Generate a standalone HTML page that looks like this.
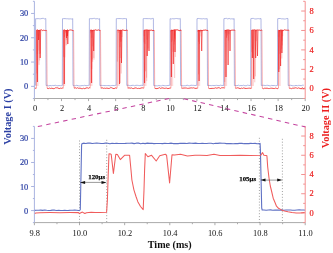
<!DOCTYPE html>
<html><head><meta charset="utf-8"><title>Voltage plot</title>
<style>
html,body{margin:0;padding:0;background:#fff;}
body{width:333px;height:253px;overflow:hidden;}
svg{display:block;}
</style></head>
<body>
<svg width="333" height="253" viewBox="0 0 333 253">
<rect width="333" height="253" fill="#fff"/>
<line x1="34.4" y1="1.3" x2="34.4" y2="98.5" stroke="#a9b3e0" stroke-width="1"/>
<line x1="305.2" y1="1.3" x2="305.2" y2="98.5" stroke="#f39090" stroke-width="1"/>
<line x1="34.4" y1="98.5" x2="305.2" y2="98.5" stroke="#aaaaaa" stroke-width="1"/>
<line x1="32.9" y1="98.50" x2="34.4" y2="98.50" stroke="#a9b3e0" stroke-width="1"/>
<line x1="31.1" y1="86.35" x2="34.4" y2="86.35" stroke="#a9b3e0" stroke-width="1"/>
<text x="28.3" y="89.35" text-anchor="end" fill="#2c40a4" stroke="#2c40a4" stroke-width="0.2" font-size="8.4" style="font-family:'Liberation Serif','Times New Roman',serif">0</text>
<line x1="32.9" y1="74.20" x2="34.4" y2="74.20" stroke="#a9b3e0" stroke-width="1"/>
<line x1="31.1" y1="62.05" x2="34.4" y2="62.05" stroke="#a9b3e0" stroke-width="1"/>
<text x="28.3" y="65.05" text-anchor="end" fill="#2c40a4" stroke="#2c40a4" stroke-width="0.2" font-size="8.4" style="font-family:'Liberation Serif','Times New Roman',serif">10</text>
<line x1="32.9" y1="49.90" x2="34.4" y2="49.90" stroke="#a9b3e0" stroke-width="1"/>
<line x1="31.1" y1="37.75" x2="34.4" y2="37.75" stroke="#a9b3e0" stroke-width="1"/>
<text x="28.3" y="40.75" text-anchor="end" fill="#2c40a4" stroke="#2c40a4" stroke-width="0.2" font-size="8.4" style="font-family:'Liberation Serif','Times New Roman',serif">20</text>
<line x1="32.9" y1="25.60" x2="34.4" y2="25.60" stroke="#a9b3e0" stroke-width="1"/>
<line x1="31.1" y1="13.45" x2="34.4" y2="13.45" stroke="#a9b3e0" stroke-width="1"/>
<text x="28.3" y="16.45" text-anchor="end" fill="#2c40a4" stroke="#2c40a4" stroke-width="0.2" font-size="8.4" style="font-family:'Liberation Serif','Times New Roman',serif">30</text>
<line x1="32.9" y1="1.30" x2="34.4" y2="1.30" stroke="#a9b3e0" stroke-width="1"/>
<line x1="303.2" y1="98.50" x2="305.2" y2="98.50" stroke="#f39090" stroke-width="1"/>
<line x1="301.2" y1="88.78" x2="305.2" y2="88.78" stroke="#f39090" stroke-width="1"/>
<text x="309.6" y="91.38" fill="#ec2020" stroke="#ec2020" stroke-width="0.2" font-size="8.4" style="font-family:'Liberation Serif','Times New Roman',serif">0</text>
<line x1="303.2" y1="79.06" x2="305.2" y2="79.06" stroke="#f39090" stroke-width="1"/>
<line x1="301.2" y1="69.34" x2="305.2" y2="69.34" stroke="#f39090" stroke-width="1"/>
<text x="309.6" y="71.94" fill="#ec2020" stroke="#ec2020" stroke-width="0.2" font-size="8.4" style="font-family:'Liberation Serif','Times New Roman',serif">2</text>
<line x1="303.2" y1="59.62" x2="305.2" y2="59.62" stroke="#f39090" stroke-width="1"/>
<line x1="301.2" y1="49.90" x2="305.2" y2="49.90" stroke="#f39090" stroke-width="1"/>
<text x="309.6" y="52.50" fill="#ec2020" stroke="#ec2020" stroke-width="0.2" font-size="8.4" style="font-family:'Liberation Serif','Times New Roman',serif">4</text>
<line x1="303.2" y1="40.18" x2="305.2" y2="40.18" stroke="#f39090" stroke-width="1"/>
<line x1="301.2" y1="30.46" x2="305.2" y2="30.46" stroke="#f39090" stroke-width="1"/>
<text x="309.6" y="33.06" fill="#ec2020" stroke="#ec2020" stroke-width="0.2" font-size="8.4" style="font-family:'Liberation Serif','Times New Roman',serif">6</text>
<line x1="303.2" y1="20.74" x2="305.2" y2="20.74" stroke="#f39090" stroke-width="1"/>
<line x1="301.2" y1="11.02" x2="305.2" y2="11.02" stroke="#f39090" stroke-width="1"/>
<text x="309.6" y="13.62" fill="#ec2020" stroke="#ec2020" stroke-width="0.2" font-size="8.4" style="font-family:'Liberation Serif','Times New Roman',serif">8</text>
<line x1="303.2" y1="1.30" x2="305.2" y2="1.30" stroke="#f39090" stroke-width="1"/>
<line x1="34.40" y1="98.5" x2="34.40" y2="101.1" stroke="#aaaaaa" stroke-width="1"/>
<text x="35.00" y="110.80" text-anchor="middle" fill="#111" font-size="8.4" style="font-family:'Liberation Serif','Times New Roman',serif">0</text>
<line x1="47.94" y1="98.5" x2="47.94" y2="100.1" stroke="#aaaaaa" stroke-width="1"/>
<line x1="61.48" y1="98.5" x2="61.48" y2="101.1" stroke="#aaaaaa" stroke-width="1"/>
<text x="62.08" y="110.80" text-anchor="middle" fill="#111" font-size="8.4" style="font-family:'Liberation Serif','Times New Roman',serif">2</text>
<line x1="75.02" y1="98.5" x2="75.02" y2="100.1" stroke="#aaaaaa" stroke-width="1"/>
<line x1="88.56" y1="98.5" x2="88.56" y2="101.1" stroke="#aaaaaa" stroke-width="1"/>
<text x="89.16" y="110.80" text-anchor="middle" fill="#111" font-size="8.4" style="font-family:'Liberation Serif','Times New Roman',serif">4</text>
<line x1="102.10" y1="98.5" x2="102.10" y2="100.1" stroke="#aaaaaa" stroke-width="1"/>
<line x1="115.64" y1="98.5" x2="115.64" y2="101.1" stroke="#aaaaaa" stroke-width="1"/>
<text x="116.24" y="110.80" text-anchor="middle" fill="#111" font-size="8.4" style="font-family:'Liberation Serif','Times New Roman',serif">6</text>
<line x1="129.18" y1="98.5" x2="129.18" y2="100.1" stroke="#aaaaaa" stroke-width="1"/>
<line x1="142.72" y1="98.5" x2="142.72" y2="101.1" stroke="#aaaaaa" stroke-width="1"/>
<text x="143.32" y="110.80" text-anchor="middle" fill="#111" font-size="8.4" style="font-family:'Liberation Serif','Times New Roman',serif">8</text>
<line x1="156.26" y1="98.5" x2="156.26" y2="100.1" stroke="#aaaaaa" stroke-width="1"/>
<line x1="169.80" y1="98.5" x2="169.80" y2="101.1" stroke="#aaaaaa" stroke-width="1"/>
<text x="170.40" y="110.80" text-anchor="middle" fill="#111" font-size="8.4" style="font-family:'Liberation Serif','Times New Roman',serif">10</text>
<line x1="183.34" y1="98.5" x2="183.34" y2="100.1" stroke="#aaaaaa" stroke-width="1"/>
<line x1="196.88" y1="98.5" x2="196.88" y2="101.1" stroke="#aaaaaa" stroke-width="1"/>
<text x="197.48" y="110.80" text-anchor="middle" fill="#111" font-size="8.4" style="font-family:'Liberation Serif','Times New Roman',serif">12</text>
<line x1="210.42" y1="98.5" x2="210.42" y2="100.1" stroke="#aaaaaa" stroke-width="1"/>
<line x1="223.96" y1="98.5" x2="223.96" y2="101.1" stroke="#aaaaaa" stroke-width="1"/>
<text x="224.56" y="110.80" text-anchor="middle" fill="#111" font-size="8.4" style="font-family:'Liberation Serif','Times New Roman',serif">14</text>
<line x1="237.50" y1="98.5" x2="237.50" y2="100.1" stroke="#aaaaaa" stroke-width="1"/>
<line x1="251.04" y1="98.5" x2="251.04" y2="101.1" stroke="#aaaaaa" stroke-width="1"/>
<text x="251.64" y="110.80" text-anchor="middle" fill="#111" font-size="8.4" style="font-family:'Liberation Serif','Times New Roman',serif">16</text>
<line x1="264.58" y1="98.5" x2="264.58" y2="100.1" stroke="#aaaaaa" stroke-width="1"/>
<line x1="278.12" y1="98.5" x2="278.12" y2="101.1" stroke="#aaaaaa" stroke-width="1"/>
<text x="278.72" y="110.80" text-anchor="middle" fill="#111" font-size="8.4" style="font-family:'Liberation Serif','Times New Roman',serif">18</text>
<line x1="291.66" y1="98.5" x2="291.66" y2="100.1" stroke="#aaaaaa" stroke-width="1"/>
<line x1="305.20" y1="98.5" x2="305.20" y2="101.1" stroke="#aaaaaa" stroke-width="1"/>
<text x="305.80" y="110.80" text-anchor="middle" fill="#111" font-size="8.4" style="font-family:'Liberation Serif','Times New Roman',serif">20</text>
<polyline points="34.90,85.50 35.40,85.34 35.60,18.70 36.90,18.73 38.20,18.61 39.50,18.77 40.80,18.79 42.10,18.40 43.40,18.36 44.70,18.94 45.80,18.53 45.80,18.70 46.10,85.50 47.40,85.31 48.70,85.85 50.00,85.48 51.30,85.74 52.60,85.48 53.90,85.60 55.20,85.26 56.50,85.59 57.80,85.76 59.10,85.52 60.40,85.67 61.70,85.62 62.30,85.50 62.50,18.70 63.80,18.62 65.10,18.60 66.40,18.76 67.70,18.76 69.00,18.98 70.30,18.83 71.60,19.00 72.70,18.95 72.70,18.70 73.00,85.50 74.30,85.84 75.60,85.62 76.90,85.26 78.20,85.75 79.50,85.83 80.80,85.78 82.10,85.55 83.40,85.65 84.70,85.30 86.00,85.73 87.30,85.55 88.60,85.35 89.20,85.32 89.40,18.70 90.70,18.64 92.00,18.78 93.30,18.46 94.60,18.38 95.90,18.96 97.20,18.57 98.50,19.02 99.60,18.98 99.60,18.70 99.90,85.50 101.20,85.41 102.50,85.47 103.80,85.51 105.10,85.60 106.40,85.57 107.70,85.54 109.00,85.58 110.30,85.81 111.60,85.50 112.90,85.45 114.20,85.65 115.50,85.32 116.10,85.56 116.30,18.70 117.60,18.57 118.90,18.60 120.20,18.57 121.50,18.61 122.80,18.77 124.10,18.56 125.40,18.61 126.50,18.89 126.50,18.70 126.80,85.50 128.10,85.17 129.40,85.55 130.70,85.66 132.00,85.37 133.30,85.31 134.60,85.71 135.90,85.32 137.20,85.28 138.50,85.45 139.80,85.64 141.10,85.22 142.40,85.38 143.00,85.68 143.20,18.70 144.50,18.54 145.80,18.59 147.10,18.64 148.40,18.64 149.70,18.64 151.00,18.99 152.30,18.46 153.40,18.35 153.40,18.70 153.70,85.50 155.00,85.81 156.30,85.77 157.60,85.84 158.90,85.45 160.20,85.82 161.50,85.80 162.80,85.31 164.10,85.67 165.40,85.74 166.70,85.61 168.00,85.51 169.30,85.35 169.90,85.35 170.10,18.70 171.40,18.95 172.70,18.68 174.00,18.90 175.30,18.60 176.60,18.49 177.90,18.72 179.20,18.92 180.30,18.47 180.30,18.70 180.60,85.50 181.90,85.70 183.20,85.80 184.50,85.71 185.80,85.73 187.10,85.16 188.40,85.59 189.70,85.75 191.00,85.18 192.30,85.34 193.60,85.34 194.90,85.52 196.20,85.45 196.80,85.25 197.00,18.70 198.30,18.47 199.60,18.61 200.90,18.77 202.20,18.90 203.50,18.62 204.80,18.91 206.10,18.79 207.20,18.65 207.20,18.70 207.50,85.50 208.80,85.41 210.10,85.50 211.40,85.64 212.70,85.44 214.00,85.64 215.30,85.47 216.60,85.32 217.90,85.53 219.20,85.64 220.50,85.20 221.80,85.45 223.10,85.45 223.70,85.73 223.90,18.70 225.20,18.48 226.50,18.37 227.80,18.94 229.10,18.43 230.40,18.94 231.70,18.82 233.00,18.94 234.10,19.02 234.10,18.70 234.40,85.50 235.70,85.56 237.00,85.71 238.30,85.18 239.60,85.69 240.90,85.51 242.20,85.65 243.50,85.22 244.80,85.67 246.10,85.80 247.40,85.19 248.70,85.38 250.00,85.54 250.60,85.74 250.80,18.70 252.10,18.45 253.40,18.42 254.70,18.87 256.00,18.99 257.30,18.71 258.60,18.66 259.90,18.85 261.00,18.48 261.00,18.70 261.30,85.50 262.60,85.34 263.90,85.29 265.20,85.56 266.50,85.37 267.80,85.31 269.10,85.63 270.40,85.82 271.70,85.36 273.00,85.64 274.30,85.44 275.60,85.75 276.90,85.56 277.50,85.48 277.70,18.70 279.00,18.51 280.30,18.51 281.60,18.85 282.90,18.82 284.20,19.02 285.50,18.95 286.80,18.52 287.90,18.48 287.90,18.70 288.20,85.50 289.50,85.33 290.80,85.28 292.10,85.64 293.40,85.75 294.70,85.78 296.00,85.33 297.30,85.76 298.60,85.37 299.90,85.45 301.20,85.66 302.50,85.21 303.80,85.21" fill="none" stroke="#8f9ad8" stroke-width="0.7" stroke-linejoin="round"/>
<rect x="35.90" y="30.2" width="2.70" height="55.80" fill="#f01e1e" fill-opacity="0.16"/>
<line x1="39.61" y1="30.2" x2="39.61" y2="60.5" stroke="#f01e1e" stroke-width="0.45" stroke-opacity="0.55"/>
<line x1="37.32" y1="30.2" x2="37.32" y2="53.8" stroke="#f01e1e" stroke-width="0.45" stroke-opacity="0.55"/>
<line x1="39.04" y1="30.2" x2="39.04" y2="64.9" stroke="#f01e1e" stroke-width="0.45" stroke-opacity="0.55"/>
<line x1="37.17" y1="30.2" x2="37.17" y2="60.2" stroke="#f01e1e" stroke-width="0.45" stroke-opacity="0.55"/>
<line x1="40.51" y1="30.2" x2="40.51" y2="53.5" stroke="#f01e1e" stroke-width="0.45" stroke-opacity="0.55"/>
<line x1="38.47" y1="30.2" x2="38.47" y2="30.7" stroke="#f01e1e" stroke-width="0.45" stroke-opacity="0.55"/>
<line x1="38.27" y1="30.2" x2="38.27" y2="35.8" stroke="#f01e1e" stroke-width="0.45" stroke-opacity="0.55"/>
<line x1="39.35" y1="30.2" x2="39.35" y2="54.0" stroke="#f01e1e" stroke-width="0.45" stroke-opacity="0.55"/>
<line x1="38.62" y1="30.2" x2="38.62" y2="31.5" stroke="#f01e1e" stroke-width="0.45" stroke-opacity="0.55"/>
<line x1="39.00" y1="30.2" x2="39.00" y2="50.5" stroke="#f01e1e" stroke-width="0.45" stroke-opacity="0.55"/>
<line x1="36.76" y1="30.2" x2="36.76" y2="73.4" stroke="#f01e1e" stroke-width="0.45" stroke-opacity="0.55"/>
<line x1="39.05" y1="30.2" x2="39.05" y2="30.8" stroke="#f01e1e" stroke-width="0.45" stroke-opacity="0.55"/>
<polyline points="36.90,30.2 37.40,82 37.90,30.2" fill="none" stroke="#f01e1e" stroke-width="0.6"/>
<polyline points="39.70,30.2 40.20,58 40.70,30.2" fill="none" stroke="#f01e1e" stroke-width="0.6"/>
<polyline points="38.10,30.2 38.60,40 39.10,30.2" fill="none" stroke="#f01e1e" stroke-width="0.6"/>
<rect x="63.20" y="30.2" width="2.00" height="55.80" fill="#f01e1e" fill-opacity="0.16"/>
<line x1="67.67" y1="30.2" x2="67.67" y2="31.0" stroke="#f01e1e" stroke-width="0.45" stroke-opacity="0.55"/>
<line x1="64.79" y1="30.2" x2="64.79" y2="57.3" stroke="#f01e1e" stroke-width="0.45" stroke-opacity="0.55"/>
<line x1="66.07" y1="30.2" x2="66.07" y2="45.5" stroke="#f01e1e" stroke-width="0.45" stroke-opacity="0.55"/>
<line x1="66.31" y1="30.2" x2="66.31" y2="40.2" stroke="#f01e1e" stroke-width="0.45" stroke-opacity="0.55"/>
<line x1="64.70" y1="30.2" x2="64.70" y2="31.4" stroke="#f01e1e" stroke-width="0.45" stroke-opacity="0.55"/>
<line x1="63.53" y1="30.2" x2="63.53" y2="56.9" stroke="#f01e1e" stroke-width="0.45" stroke-opacity="0.55"/>
<line x1="66.82" y1="30.2" x2="66.82" y2="44.8" stroke="#f01e1e" stroke-width="0.45" stroke-opacity="0.55"/>
<line x1="66.75" y1="30.2" x2="66.75" y2="36.1" stroke="#f01e1e" stroke-width="0.45" stroke-opacity="0.55"/>
<line x1="64.48" y1="30.2" x2="64.48" y2="37.0" stroke="#f01e1e" stroke-width="0.45" stroke-opacity="0.55"/>
<line x1="67.39" y1="30.2" x2="67.39" y2="30.3" stroke="#f01e1e" stroke-width="0.45" stroke-opacity="0.55"/>
<line x1="65.62" y1="30.2" x2="65.62" y2="32.8" stroke="#f01e1e" stroke-width="0.45" stroke-opacity="0.55"/>
<line x1="66.89" y1="30.2" x2="66.89" y2="35.9" stroke="#f01e1e" stroke-width="0.45" stroke-opacity="0.55"/>
<polyline points="63.80,30.2 64.30,84 64.80,30.2" fill="none" stroke="#f01e1e" stroke-width="0.6"/>
<polyline points="66.00,30.2 66.50,38 67.00,30.2" fill="none" stroke="#f01e1e" stroke-width="0.6"/>
<polyline points="66.80,30.2 67.30,36 67.80,30.2" fill="none" stroke="#f01e1e" stroke-width="0.6"/>
<polyline points="67.30,30.2 67.80,44 68.30,30.2" fill="none" stroke="#f01e1e" stroke-width="0.6"/>
<rect x="90.10" y="30.2" width="2.40" height="55.80" fill="#f01e1e" fill-opacity="0.16"/>
<line x1="91.70" y1="30.2" x2="91.70" y2="37.8" stroke="#f01e1e" stroke-width="0.45" stroke-opacity="0.55"/>
<line x1="92.70" y1="30.2" x2="92.70" y2="61.8" stroke="#f01e1e" stroke-width="0.45" stroke-opacity="0.55"/>
<line x1="91.79" y1="30.2" x2="91.79" y2="68.9" stroke="#f01e1e" stroke-width="0.45" stroke-opacity="0.55"/>
<line x1="90.64" y1="30.2" x2="90.64" y2="33.3" stroke="#f01e1e" stroke-width="0.45" stroke-opacity="0.55"/>
<line x1="90.58" y1="30.2" x2="90.58" y2="30.7" stroke="#f01e1e" stroke-width="0.45" stroke-opacity="0.55"/>
<line x1="93.84" y1="30.2" x2="93.84" y2="57.9" stroke="#f01e1e" stroke-width="0.45" stroke-opacity="0.55"/>
<line x1="90.99" y1="30.2" x2="90.99" y2="31.6" stroke="#f01e1e" stroke-width="0.45" stroke-opacity="0.55"/>
<line x1="92.10" y1="30.2" x2="92.10" y2="59.3" stroke="#f01e1e" stroke-width="0.45" stroke-opacity="0.55"/>
<line x1="94.02" y1="30.2" x2="94.02" y2="59.7" stroke="#f01e1e" stroke-width="0.45" stroke-opacity="0.55"/>
<line x1="92.94" y1="30.2" x2="92.94" y2="31.0" stroke="#f01e1e" stroke-width="0.45" stroke-opacity="0.55"/>
<line x1="92.01" y1="30.2" x2="92.01" y2="31.7" stroke="#f01e1e" stroke-width="0.45" stroke-opacity="0.55"/>
<line x1="92.63" y1="30.2" x2="92.63" y2="46.3" stroke="#f01e1e" stroke-width="0.45" stroke-opacity="0.55"/>
<polyline points="91.10,30.2 91.60,83 92.10,30.2" fill="none" stroke="#f01e1e" stroke-width="0.6"/>
<polyline points="93.20,30.2 93.70,51 94.20,30.2" fill="none" stroke="#f01e1e" stroke-width="0.6"/>
<rect x="117.40" y="30.2" width="2.50" height="55.80" fill="#f01e1e" fill-opacity="0.16"/>
<line x1="118.37" y1="30.2" x2="118.37" y2="32.8" stroke="#f01e1e" stroke-width="0.45" stroke-opacity="0.55"/>
<line x1="121.15" y1="30.2" x2="121.15" y2="30.2" stroke="#f01e1e" stroke-width="0.45" stroke-opacity="0.55"/>
<line x1="121.26" y1="30.2" x2="121.26" y2="73.5" stroke="#f01e1e" stroke-width="0.45" stroke-opacity="0.55"/>
<line x1="121.96" y1="30.2" x2="121.96" y2="37.0" stroke="#f01e1e" stroke-width="0.45" stroke-opacity="0.55"/>
<line x1="120.05" y1="30.2" x2="120.05" y2="47.2" stroke="#f01e1e" stroke-width="0.45" stroke-opacity="0.55"/>
<line x1="120.44" y1="30.2" x2="120.44" y2="83.2" stroke="#f01e1e" stroke-width="0.45" stroke-opacity="0.55"/>
<line x1="120.70" y1="30.2" x2="120.70" y2="34.1" stroke="#f01e1e" stroke-width="0.45" stroke-opacity="0.55"/>
<line x1="121.53" y1="30.2" x2="121.53" y2="41.5" stroke="#f01e1e" stroke-width="0.45" stroke-opacity="0.55"/>
<line x1="120.29" y1="30.2" x2="120.29" y2="57.9" stroke="#f01e1e" stroke-width="0.45" stroke-opacity="0.55"/>
<line x1="117.41" y1="30.2" x2="117.41" y2="61.6" stroke="#f01e1e" stroke-width="0.45" stroke-opacity="0.55"/>
<line x1="120.58" y1="30.2" x2="120.58" y2="41.9" stroke="#f01e1e" stroke-width="0.45" stroke-opacity="0.55"/>
<line x1="119.91" y1="30.2" x2="119.91" y2="40.3" stroke="#f01e1e" stroke-width="0.45" stroke-opacity="0.55"/>
<polyline points="119.00,30.2 119.50,84 120.00,30.2" fill="none" stroke="#f01e1e" stroke-width="0.6"/>
<polyline points="121.00,30.2 121.50,63 122.00,30.2" fill="none" stroke="#f01e1e" stroke-width="0.6"/>
<rect x="144.00" y="30.2" width="2.50" height="55.80" fill="#f01e1e" fill-opacity="0.16"/>
<line x1="144.93" y1="30.2" x2="144.93" y2="44.0" stroke="#f01e1e" stroke-width="0.45" stroke-opacity="0.55"/>
<line x1="144.18" y1="30.2" x2="144.18" y2="42.4" stroke="#f01e1e" stroke-width="0.45" stroke-opacity="0.55"/>
<line x1="147.10" y1="30.2" x2="147.10" y2="39.6" stroke="#f01e1e" stroke-width="0.45" stroke-opacity="0.55"/>
<line x1="146.72" y1="30.2" x2="146.72" y2="81.1" stroke="#f01e1e" stroke-width="0.45" stroke-opacity="0.55"/>
<line x1="148.28" y1="30.2" x2="148.28" y2="30.9" stroke="#f01e1e" stroke-width="0.45" stroke-opacity="0.55"/>
<line x1="147.80" y1="30.2" x2="147.80" y2="49.9" stroke="#f01e1e" stroke-width="0.45" stroke-opacity="0.55"/>
<line x1="144.24" y1="30.2" x2="144.24" y2="36.1" stroke="#f01e1e" stroke-width="0.45" stroke-opacity="0.55"/>
<line x1="145.12" y1="30.2" x2="145.12" y2="30.4" stroke="#f01e1e" stroke-width="0.45" stroke-opacity="0.55"/>
<line x1="146.59" y1="30.2" x2="146.59" y2="77.7" stroke="#f01e1e" stroke-width="0.45" stroke-opacity="0.55"/>
<line x1="145.55" y1="30.2" x2="145.55" y2="71.3" stroke="#f01e1e" stroke-width="0.45" stroke-opacity="0.55"/>
<line x1="147.33" y1="30.2" x2="147.33" y2="30.9" stroke="#f01e1e" stroke-width="0.45" stroke-opacity="0.55"/>
<line x1="148.12" y1="30.2" x2="148.12" y2="48.4" stroke="#f01e1e" stroke-width="0.45" stroke-opacity="0.55"/>
<polyline points="144.10,30.2 144.60,83 145.10,30.2" fill="none" stroke="#f01e1e" stroke-width="0.6"/>
<polyline points="146.70,30.2 147.20,56 147.70,30.2" fill="none" stroke="#f01e1e" stroke-width="0.6"/>
<polyline points="148.50,30.2 149.00,51 149.50,30.2" fill="none" stroke="#f01e1e" stroke-width="0.6"/>
<rect x="170.80" y="30.2" width="2.40" height="55.80" fill="#f01e1e" fill-opacity="0.16"/>
<line x1="175.25" y1="30.2" x2="175.25" y2="57.0" stroke="#f01e1e" stroke-width="0.45" stroke-opacity="0.55"/>
<line x1="174.35" y1="30.2" x2="174.35" y2="35.5" stroke="#f01e1e" stroke-width="0.45" stroke-opacity="0.55"/>
<line x1="174.67" y1="30.2" x2="174.67" y2="78.0" stroke="#f01e1e" stroke-width="0.45" stroke-opacity="0.55"/>
<line x1="174.94" y1="30.2" x2="174.94" y2="39.2" stroke="#f01e1e" stroke-width="0.45" stroke-opacity="0.55"/>
<line x1="174.43" y1="30.2" x2="174.43" y2="41.6" stroke="#f01e1e" stroke-width="0.45" stroke-opacity="0.55"/>
<line x1="171.32" y1="30.2" x2="171.32" y2="30.3" stroke="#f01e1e" stroke-width="0.45" stroke-opacity="0.55"/>
<line x1="171.17" y1="30.2" x2="171.17" y2="31.8" stroke="#f01e1e" stroke-width="0.45" stroke-opacity="0.55"/>
<line x1="171.57" y1="30.2" x2="171.57" y2="42.2" stroke="#f01e1e" stroke-width="0.45" stroke-opacity="0.55"/>
<line x1="174.16" y1="30.2" x2="174.16" y2="44.4" stroke="#f01e1e" stroke-width="0.45" stroke-opacity="0.55"/>
<line x1="172.83" y1="30.2" x2="172.83" y2="51.8" stroke="#f01e1e" stroke-width="0.45" stroke-opacity="0.55"/>
<line x1="172.26" y1="30.2" x2="172.26" y2="40.5" stroke="#f01e1e" stroke-width="0.45" stroke-opacity="0.55"/>
<line x1="174.43" y1="30.2" x2="174.43" y2="37.7" stroke="#f01e1e" stroke-width="0.45" stroke-opacity="0.55"/>
<polyline points="170.90,30.2 171.40,77 171.90,30.2" fill="none" stroke="#f01e1e" stroke-width="0.6"/>
<polyline points="172.80,30.2 173.30,64 173.80,30.2" fill="none" stroke="#f01e1e" stroke-width="0.6"/>
<polyline points="174.50,30.2 175.00,52 175.50,30.2" fill="none" stroke="#f01e1e" stroke-width="0.6"/>
<rect x="197.70" y="30.2" width="2.50" height="55.80" fill="#f01e1e" fill-opacity="0.16"/>
<line x1="198.57" y1="30.2" x2="198.57" y2="74.4" stroke="#f01e1e" stroke-width="0.45" stroke-opacity="0.55"/>
<line x1="201.15" y1="30.2" x2="201.15" y2="36.3" stroke="#f01e1e" stroke-width="0.45" stroke-opacity="0.55"/>
<line x1="199.48" y1="30.2" x2="199.48" y2="44.0" stroke="#f01e1e" stroke-width="0.45" stroke-opacity="0.55"/>
<line x1="200.56" y1="30.2" x2="200.56" y2="32.3" stroke="#f01e1e" stroke-width="0.45" stroke-opacity="0.55"/>
<line x1="197.71" y1="30.2" x2="197.71" y2="32.0" stroke="#f01e1e" stroke-width="0.45" stroke-opacity="0.55"/>
<line x1="201.46" y1="30.2" x2="201.46" y2="31.0" stroke="#f01e1e" stroke-width="0.45" stroke-opacity="0.55"/>
<line x1="199.91" y1="30.2" x2="199.91" y2="31.7" stroke="#f01e1e" stroke-width="0.45" stroke-opacity="0.55"/>
<line x1="198.70" y1="30.2" x2="198.70" y2="31.3" stroke="#f01e1e" stroke-width="0.45" stroke-opacity="0.55"/>
<line x1="199.64" y1="30.2" x2="199.64" y2="31.3" stroke="#f01e1e" stroke-width="0.45" stroke-opacity="0.55"/>
<line x1="197.83" y1="30.2" x2="197.83" y2="30.6" stroke="#f01e1e" stroke-width="0.45" stroke-opacity="0.55"/>
<line x1="198.51" y1="30.2" x2="198.51" y2="41.8" stroke="#f01e1e" stroke-width="0.45" stroke-opacity="0.55"/>
<line x1="197.99" y1="30.2" x2="197.99" y2="30.2" stroke="#f01e1e" stroke-width="0.45" stroke-opacity="0.55"/>
<polyline points="198.60,30.2 199.10,81 199.60,30.2" fill="none" stroke="#f01e1e" stroke-width="0.6"/>
<polyline points="201.20,30.2 201.70,51 202.20,30.2" fill="none" stroke="#f01e1e" stroke-width="0.6"/>
<rect x="224.60" y="30.2" width="2.50" height="55.80" fill="#f01e1e" fill-opacity="0.16"/>
<line x1="226.75" y1="30.2" x2="226.75" y2="38.0" stroke="#f01e1e" stroke-width="0.45" stroke-opacity="0.55"/>
<line x1="227.98" y1="30.2" x2="227.98" y2="30.3" stroke="#f01e1e" stroke-width="0.45" stroke-opacity="0.55"/>
<line x1="226.54" y1="30.2" x2="226.54" y2="37.5" stroke="#f01e1e" stroke-width="0.45" stroke-opacity="0.55"/>
<line x1="224.73" y1="30.2" x2="224.73" y2="81.9" stroke="#f01e1e" stroke-width="0.45" stroke-opacity="0.55"/>
<line x1="225.65" y1="30.2" x2="225.65" y2="30.5" stroke="#f01e1e" stroke-width="0.45" stroke-opacity="0.55"/>
<line x1="226.88" y1="30.2" x2="226.88" y2="31.3" stroke="#f01e1e" stroke-width="0.45" stroke-opacity="0.55"/>
<line x1="227.59" y1="30.2" x2="227.59" y2="35.6" stroke="#f01e1e" stroke-width="0.45" stroke-opacity="0.55"/>
<line x1="225.19" y1="30.2" x2="225.19" y2="30.3" stroke="#f01e1e" stroke-width="0.45" stroke-opacity="0.55"/>
<line x1="228.09" y1="30.2" x2="228.09" y2="33.5" stroke="#f01e1e" stroke-width="0.45" stroke-opacity="0.55"/>
<line x1="228.38" y1="30.2" x2="228.38" y2="40.6" stroke="#f01e1e" stroke-width="0.45" stroke-opacity="0.55"/>
<line x1="229.08" y1="30.2" x2="229.08" y2="34.2" stroke="#f01e1e" stroke-width="0.45" stroke-opacity="0.55"/>
<line x1="225.80" y1="30.2" x2="225.80" y2="33.2" stroke="#f01e1e" stroke-width="0.45" stroke-opacity="0.55"/>
<polyline points="225.50,30.2 226.00,77 226.50,30.2" fill="none" stroke="#f01e1e" stroke-width="0.6"/>
<polyline points="227.60,30.2 228.10,65 228.60,30.2" fill="none" stroke="#f01e1e" stroke-width="0.6"/>
<polyline points="229.50,30.2 230.00,51 230.50,30.2" fill="none" stroke="#f01e1e" stroke-width="0.6"/>
<rect x="251.50" y="30.2" width="2.50" height="55.80" fill="#f01e1e" fill-opacity="0.16"/>
<line x1="255.41" y1="30.2" x2="255.41" y2="50.3" stroke="#f01e1e" stroke-width="0.45" stroke-opacity="0.55"/>
<line x1="253.15" y1="30.2" x2="253.15" y2="30.5" stroke="#f01e1e" stroke-width="0.45" stroke-opacity="0.55"/>
<line x1="254.78" y1="30.2" x2="254.78" y2="82.3" stroke="#f01e1e" stroke-width="0.45" stroke-opacity="0.55"/>
<line x1="254.34" y1="30.2" x2="254.34" y2="30.2" stroke="#f01e1e" stroke-width="0.45" stroke-opacity="0.55"/>
<line x1="251.65" y1="30.2" x2="251.65" y2="30.5" stroke="#f01e1e" stroke-width="0.45" stroke-opacity="0.55"/>
<line x1="252.32" y1="30.2" x2="252.32" y2="30.2" stroke="#f01e1e" stroke-width="0.45" stroke-opacity="0.55"/>
<line x1="251.76" y1="30.2" x2="251.76" y2="52.1" stroke="#f01e1e" stroke-width="0.45" stroke-opacity="0.55"/>
<line x1="255.82" y1="30.2" x2="255.82" y2="31.8" stroke="#f01e1e" stroke-width="0.45" stroke-opacity="0.55"/>
<line x1="256.17" y1="30.2" x2="256.17" y2="41.1" stroke="#f01e1e" stroke-width="0.45" stroke-opacity="0.55"/>
<line x1="255.36" y1="30.2" x2="255.36" y2="76.4" stroke="#f01e1e" stroke-width="0.45" stroke-opacity="0.55"/>
<line x1="256.01" y1="30.2" x2="256.01" y2="30.2" stroke="#f01e1e" stroke-width="0.45" stroke-opacity="0.55"/>
<line x1="252.96" y1="30.2" x2="252.96" y2="48.8" stroke="#f01e1e" stroke-width="0.45" stroke-opacity="0.55"/>
<polyline points="251.90,30.2 252.40,58 252.90,30.2" fill="none" stroke="#f01e1e" stroke-width="0.6"/>
<polyline points="253.20,30.2 253.70,79 254.20,30.2" fill="none" stroke="#f01e1e" stroke-width="0.6"/>
<polyline points="255.20,30.2 255.70,58 256.20,30.2" fill="none" stroke="#f01e1e" stroke-width="0.6"/>
<polyline points="257.00,30.2 257.50,56 258.00,30.2" fill="none" stroke="#f01e1e" stroke-width="0.6"/>
<rect x="278.30" y="30.2" width="2.50" height="55.80" fill="#f01e1e" fill-opacity="0.16"/>
<line x1="282.84" y1="30.2" x2="282.84" y2="30.5" stroke="#f01e1e" stroke-width="0.45" stroke-opacity="0.55"/>
<line x1="279.71" y1="30.2" x2="279.71" y2="69.2" stroke="#f01e1e" stroke-width="0.45" stroke-opacity="0.55"/>
<line x1="278.85" y1="30.2" x2="278.85" y2="37.2" stroke="#f01e1e" stroke-width="0.45" stroke-opacity="0.55"/>
<line x1="279.90" y1="30.2" x2="279.90" y2="54.1" stroke="#f01e1e" stroke-width="0.45" stroke-opacity="0.55"/>
<line x1="282.76" y1="30.2" x2="282.76" y2="31.4" stroke="#f01e1e" stroke-width="0.45" stroke-opacity="0.55"/>
<line x1="281.85" y1="30.2" x2="281.85" y2="58.5" stroke="#f01e1e" stroke-width="0.45" stroke-opacity="0.55"/>
<line x1="282.31" y1="30.2" x2="282.31" y2="45.4" stroke="#f01e1e" stroke-width="0.45" stroke-opacity="0.55"/>
<line x1="282.73" y1="30.2" x2="282.73" y2="36.2" stroke="#f01e1e" stroke-width="0.45" stroke-opacity="0.55"/>
<line x1="280.29" y1="30.2" x2="280.29" y2="32.4" stroke="#f01e1e" stroke-width="0.45" stroke-opacity="0.55"/>
<line x1="282.04" y1="30.2" x2="282.04" y2="41.3" stroke="#f01e1e" stroke-width="0.45" stroke-opacity="0.55"/>
<line x1="279.59" y1="30.2" x2="279.59" y2="31.3" stroke="#f01e1e" stroke-width="0.45" stroke-opacity="0.55"/>
<line x1="281.76" y1="30.2" x2="281.76" y2="48.7" stroke="#f01e1e" stroke-width="0.45" stroke-opacity="0.55"/>
<polyline points="278.30,30.2 278.80,72 279.30,30.2" fill="none" stroke="#f01e1e" stroke-width="0.6"/>
<polyline points="280.10,30.2 280.60,66 281.10,30.2" fill="none" stroke="#f01e1e" stroke-width="0.6"/>
<polyline points="281.40,30.2 281.90,53 282.40,30.2" fill="none" stroke="#f01e1e" stroke-width="0.6"/>
<polyline points="36.50,30.20 37.50,29.86 38.50,30.48 39.50,30.33 40.50,30.07 41.50,29.83 42.50,30.58 43.50,30.23 44.50,30.45 45.50,30.59 46.50,30.44 46.70,30.60" fill="none" stroke="#f01e1e" stroke-width="0.85" stroke-linejoin="round"/>
<polyline points="63.40,30.20 64.40,29.86 65.40,30.57 66.40,30.69 67.40,29.88 68.40,30.52 69.40,30.17 70.40,29.94 71.40,30.06 72.40,30.49 73.40,30.59 73.60,30.60" fill="none" stroke="#f01e1e" stroke-width="0.85" stroke-linejoin="round"/>
<polyline points="90.30,30.20 91.30,30.07 92.30,30.68 93.30,30.27 94.30,30.29 95.30,29.81 96.30,30.17 97.30,30.32 98.30,29.82 99.30,30.35 100.30,30.37 100.50,30.60" fill="none" stroke="#f01e1e" stroke-width="0.85" stroke-linejoin="round"/>
<polyline points="117.20,30.20 118.20,30.10 119.20,30.55 120.20,30.19 121.20,30.57 122.20,29.95 123.20,30.10 124.20,30.39 125.20,30.60 126.20,30.21 127.20,30.00 127.40,30.60" fill="none" stroke="#f01e1e" stroke-width="0.85" stroke-linejoin="round"/>
<polyline points="144.10,30.20 145.10,30.11 146.10,30.00 147.10,29.86 148.10,30.33 149.10,30.06 150.10,30.53 151.10,29.84 152.10,30.61 153.10,30.42 154.10,30.63 154.30,30.60" fill="none" stroke="#f01e1e" stroke-width="0.85" stroke-linejoin="round"/>
<polyline points="171.00,30.20 172.00,30.23 173.00,30.50 174.00,29.80 175.00,29.85 176.00,29.91 177.00,29.91 178.00,29.86 179.00,30.68 180.00,30.57 181.00,29.88 181.20,30.60" fill="none" stroke="#f01e1e" stroke-width="0.85" stroke-linejoin="round"/>
<polyline points="197.90,30.20 198.90,30.59 199.90,30.64 200.90,30.14 201.90,30.61 202.90,30.51 203.90,30.04 204.90,30.22 205.90,29.91 206.90,30.53 207.90,30.40 208.10,30.60" fill="none" stroke="#f01e1e" stroke-width="0.85" stroke-linejoin="round"/>
<polyline points="224.80,30.20 225.80,30.55 226.80,30.02 227.80,29.96 228.80,30.02 229.80,30.35 230.80,30.48 231.80,30.15 232.80,30.13 233.80,30.16 234.80,30.12 235.00,30.60" fill="none" stroke="#f01e1e" stroke-width="0.85" stroke-linejoin="round"/>
<polyline points="251.70,30.20 252.70,30.04 253.70,30.00 254.70,29.82 255.70,30.23 256.70,30.14 257.70,29.96 258.70,30.12 259.70,30.09 260.70,30.50 261.70,29.93 261.90,30.60" fill="none" stroke="#f01e1e" stroke-width="0.85" stroke-linejoin="round"/>
<polyline points="278.60,30.20 279.60,30.55 280.60,30.06 281.60,30.12 282.60,30.32 283.60,30.41 284.60,29.81 285.60,30.10 286.60,30.19 287.60,30.24 288.60,29.99 288.80,30.60" fill="none" stroke="#f01e1e" stroke-width="0.85" stroke-linejoin="round"/>
<polyline points="35.00,88.20 36.30,88.20" fill="none" stroke="#f01e1e" stroke-width="0.8" stroke-linejoin="round"/>
<polyline points="47.10,88.20 48.30,88.62 49.50,88.09 50.70,88.50 51.90,88.14 53.10,88.64 54.30,88.58 55.50,87.80 56.70,87.84 57.90,87.92 59.10,88.67 60.30,88.14 61.50,88.33 62.70,88.00 63.20,88.20" fill="none" stroke="#f01e1e" stroke-width="0.8" stroke-linejoin="round"/>
<polyline points="74.00,88.20 75.20,87.74 76.40,88.31 77.60,87.74 78.80,88.42 80.00,88.03 81.20,88.58 82.40,88.68 83.60,88.21 84.80,88.70 86.00,88.01 87.20,87.78 88.40,88.30 89.60,87.73 90.10,88.20" fill="none" stroke="#f01e1e" stroke-width="0.8" stroke-linejoin="round"/>
<polyline points="100.90,88.20 102.10,87.76 103.30,88.33 104.50,88.17 105.70,88.38 106.90,88.05 108.10,88.41 109.30,88.44 110.50,87.72 111.70,87.76 112.90,88.38 114.10,88.66 115.30,87.95 116.50,88.16 117.00,88.20" fill="none" stroke="#f01e1e" stroke-width="0.8" stroke-linejoin="round"/>
<polyline points="127.80,88.20 129.00,87.82 130.20,88.23 131.40,87.89 132.60,88.51 133.80,88.54 135.00,87.88 136.20,87.98 137.40,88.51 138.60,88.34 139.80,88.51 141.00,88.05 142.20,87.83 143.40,87.99 143.90,88.20" fill="none" stroke="#f01e1e" stroke-width="0.8" stroke-linejoin="round"/>
<polyline points="154.70,88.20 155.90,88.60 157.10,88.60 158.30,88.28 159.50,87.71 160.70,88.45 161.90,87.87 163.10,88.00 164.30,88.36 165.50,88.22 166.70,88.11 167.90,88.64 169.10,88.31 170.30,88.04 170.80,88.20" fill="none" stroke="#f01e1e" stroke-width="0.8" stroke-linejoin="round"/>
<polyline points="181.60,88.20 182.80,88.20 184.00,88.02 185.20,88.01 186.40,88.05 187.60,88.35 188.80,88.29 190.00,88.06 191.20,87.89 192.40,88.03 193.60,87.82 194.80,88.26 196.00,88.42 197.20,88.08 197.70,88.20" fill="none" stroke="#f01e1e" stroke-width="0.8" stroke-linejoin="round"/>
<polyline points="208.50,88.20 209.70,88.59 210.90,88.49 212.10,88.37 213.30,88.43 214.50,88.26 215.70,87.80 216.90,88.29 218.10,87.70 219.30,87.84 220.50,88.47 221.70,87.74 222.90,87.79 224.10,87.80 224.60,88.20" fill="none" stroke="#f01e1e" stroke-width="0.8" stroke-linejoin="round"/>
<polyline points="235.40,88.20 236.60,88.12 237.80,87.78 239.00,88.20 240.20,88.67 241.40,88.11 242.60,88.45 243.80,87.86 245.00,88.39 246.20,88.46 247.40,88.37 248.60,88.22 249.80,88.18 251.00,88.34 251.50,88.20" fill="none" stroke="#f01e1e" stroke-width="0.8" stroke-linejoin="round"/>
<polyline points="262.30,88.20 263.50,88.69 264.70,88.18 265.90,88.30 267.10,88.17 268.30,88.53 269.50,88.52 270.70,88.26 271.90,88.18 273.10,88.42 274.30,88.56 275.50,88.10 276.70,88.43 277.90,88.66 278.40,88.20" fill="none" stroke="#f01e1e" stroke-width="0.8" stroke-linejoin="round"/>
<polyline points="289.20,88.20 290.40,88.29 291.60,88.66 292.80,88.09 294.00,88.24 295.20,87.82 296.40,87.97 297.60,88.37 298.80,87.81 300.00,88.59 301.20,88.61 302.40,87.80 303.60,88.64 304.60,88.07" fill="none" stroke="#f01e1e" stroke-width="0.8" stroke-linejoin="round"/>
<line x1="36.40" y1="88.20" x2="36.50" y2="30.20" stroke="#f01e1e" stroke-width="0.5" stroke-opacity="0.7"/>
<line x1="46.70" y1="30.60" x2="47.10" y2="88.20" stroke="#f01e1e" stroke-width="0.5" stroke-opacity="0.7"/>
<line x1="63.30" y1="88.20" x2="63.40" y2="30.20" stroke="#f01e1e" stroke-width="0.5" stroke-opacity="0.7"/>
<line x1="73.60" y1="30.60" x2="74.00" y2="88.20" stroke="#f01e1e" stroke-width="0.5" stroke-opacity="0.7"/>
<line x1="90.20" y1="88.20" x2="90.30" y2="30.20" stroke="#f01e1e" stroke-width="0.5" stroke-opacity="0.7"/>
<line x1="100.50" y1="30.60" x2="100.90" y2="88.20" stroke="#f01e1e" stroke-width="0.5" stroke-opacity="0.7"/>
<line x1="117.10" y1="88.20" x2="117.20" y2="30.20" stroke="#f01e1e" stroke-width="0.5" stroke-opacity="0.7"/>
<line x1="127.40" y1="30.60" x2="127.80" y2="88.20" stroke="#f01e1e" stroke-width="0.5" stroke-opacity="0.7"/>
<line x1="144.00" y1="88.20" x2="144.10" y2="30.20" stroke="#f01e1e" stroke-width="0.5" stroke-opacity="0.7"/>
<line x1="154.30" y1="30.60" x2="154.70" y2="88.20" stroke="#f01e1e" stroke-width="0.5" stroke-opacity="0.7"/>
<line x1="170.90" y1="88.20" x2="171.00" y2="30.20" stroke="#f01e1e" stroke-width="0.5" stroke-opacity="0.7"/>
<line x1="181.20" y1="30.60" x2="181.60" y2="88.20" stroke="#f01e1e" stroke-width="0.5" stroke-opacity="0.7"/>
<line x1="197.80" y1="88.20" x2="197.90" y2="30.20" stroke="#f01e1e" stroke-width="0.5" stroke-opacity="0.7"/>
<line x1="208.10" y1="30.60" x2="208.50" y2="88.20" stroke="#f01e1e" stroke-width="0.5" stroke-opacity="0.7"/>
<line x1="224.70" y1="88.20" x2="224.80" y2="30.20" stroke="#f01e1e" stroke-width="0.5" stroke-opacity="0.7"/>
<line x1="235.00" y1="30.60" x2="235.40" y2="88.20" stroke="#f01e1e" stroke-width="0.5" stroke-opacity="0.7"/>
<line x1="251.60" y1="88.20" x2="251.70" y2="30.20" stroke="#f01e1e" stroke-width="0.5" stroke-opacity="0.7"/>
<line x1="261.90" y1="30.60" x2="262.30" y2="88.20" stroke="#f01e1e" stroke-width="0.5" stroke-opacity="0.7"/>
<line x1="278.50" y1="88.20" x2="278.60" y2="30.20" stroke="#f01e1e" stroke-width="0.5" stroke-opacity="0.7"/>
<line x1="288.80" y1="30.60" x2="289.20" y2="88.20" stroke="#f01e1e" stroke-width="0.5" stroke-opacity="0.7"/>
<line x1="34.4" y1="126.4" x2="34.4" y2="222.6" stroke="#a9b3e0" stroke-width="1"/>
<line x1="305.2" y1="126.4" x2="305.2" y2="222.6" stroke="#f39090" stroke-width="1"/>
<line x1="34.4" y1="222.6" x2="305.2" y2="222.6" stroke="#aaaaaa" stroke-width="1"/>
<line x1="32.9" y1="222.60" x2="34.4" y2="222.60" stroke="#a9b3e0" stroke-width="1"/>
<line x1="31.1" y1="210.57" x2="34.4" y2="210.57" stroke="#a9b3e0" stroke-width="1"/>
<text x="28.3" y="213.57" text-anchor="end" fill="#2c40a4" stroke="#2c40a4" stroke-width="0.2" font-size="8.4" style="font-family:'Liberation Serif','Times New Roman',serif">0</text>
<line x1="32.9" y1="198.55" x2="34.4" y2="198.55" stroke="#a9b3e0" stroke-width="1"/>
<line x1="31.1" y1="186.53" x2="34.4" y2="186.53" stroke="#a9b3e0" stroke-width="1"/>
<text x="28.3" y="189.53" text-anchor="end" fill="#2c40a4" stroke="#2c40a4" stroke-width="0.2" font-size="8.4" style="font-family:'Liberation Serif','Times New Roman',serif">10</text>
<line x1="32.9" y1="174.50" x2="34.4" y2="174.50" stroke="#a9b3e0" stroke-width="1"/>
<line x1="31.1" y1="162.48" x2="34.4" y2="162.48" stroke="#a9b3e0" stroke-width="1"/>
<text x="28.3" y="165.48" text-anchor="end" fill="#2c40a4" stroke="#2c40a4" stroke-width="0.2" font-size="8.4" style="font-family:'Liberation Serif','Times New Roman',serif">20</text>
<line x1="32.9" y1="150.45" x2="34.4" y2="150.45" stroke="#a9b3e0" stroke-width="1"/>
<line x1="31.1" y1="138.43" x2="34.4" y2="138.43" stroke="#a9b3e0" stroke-width="1"/>
<text x="28.3" y="141.43" text-anchor="end" fill="#2c40a4" stroke="#2c40a4" stroke-width="0.2" font-size="8.4" style="font-family:'Liberation Serif','Times New Roman',serif">30</text>
<line x1="32.9" y1="126.40" x2="34.4" y2="126.40" stroke="#a9b3e0" stroke-width="1"/>
<line x1="303.2" y1="222.60" x2="305.2" y2="222.60" stroke="#f39090" stroke-width="1"/>
<line x1="301.2" y1="212.98" x2="305.2" y2="212.98" stroke="#f39090" stroke-width="1"/>
<text x="309.6" y="215.58" fill="#ec2020" stroke="#ec2020" stroke-width="0.2" font-size="8.4" style="font-family:'Liberation Serif','Times New Roman',serif">0</text>
<line x1="303.2" y1="203.36" x2="305.2" y2="203.36" stroke="#f39090" stroke-width="1"/>
<line x1="301.2" y1="193.74" x2="305.2" y2="193.74" stroke="#f39090" stroke-width="1"/>
<text x="309.6" y="196.34" fill="#ec2020" stroke="#ec2020" stroke-width="0.2" font-size="8.4" style="font-family:'Liberation Serif','Times New Roman',serif">2</text>
<line x1="303.2" y1="184.12" x2="305.2" y2="184.12" stroke="#f39090" stroke-width="1"/>
<line x1="301.2" y1="174.50" x2="305.2" y2="174.50" stroke="#f39090" stroke-width="1"/>
<text x="309.6" y="177.10" fill="#ec2020" stroke="#ec2020" stroke-width="0.2" font-size="8.4" style="font-family:'Liberation Serif','Times New Roman',serif">4</text>
<line x1="303.2" y1="164.88" x2="305.2" y2="164.88" stroke="#f39090" stroke-width="1"/>
<line x1="301.2" y1="155.26" x2="305.2" y2="155.26" stroke="#f39090" stroke-width="1"/>
<text x="309.6" y="157.86" fill="#ec2020" stroke="#ec2020" stroke-width="0.2" font-size="8.4" style="font-family:'Liberation Serif','Times New Roman',serif">6</text>
<line x1="303.2" y1="145.64" x2="305.2" y2="145.64" stroke="#f39090" stroke-width="1"/>
<line x1="301.2" y1="136.02" x2="305.2" y2="136.02" stroke="#f39090" stroke-width="1"/>
<text x="309.6" y="138.62" fill="#ec2020" stroke="#ec2020" stroke-width="0.2" font-size="8.4" style="font-family:'Liberation Serif','Times New Roman',serif">8</text>
<line x1="303.2" y1="126.40" x2="305.2" y2="126.40" stroke="#f39090" stroke-width="1"/>
<line x1="34.40" y1="222.6" x2="34.40" y2="225.2" stroke="#aaaaaa" stroke-width="1"/>
<text x="34.70" y="235.70" text-anchor="middle" fill="#111" font-size="8.4" style="font-family:'Liberation Serif','Times New Roman',serif">9.8</text>
<line x1="56.97" y1="222.6" x2="56.97" y2="224.2" stroke="#aaaaaa" stroke-width="1"/>
<line x1="79.53" y1="222.6" x2="79.53" y2="225.2" stroke="#aaaaaa" stroke-width="1"/>
<text x="79.83" y="235.70" text-anchor="middle" fill="#111" font-size="8.4" style="font-family:'Liberation Serif','Times New Roman',serif">10.0</text>
<line x1="102.10" y1="222.6" x2="102.10" y2="224.2" stroke="#aaaaaa" stroke-width="1"/>
<line x1="124.67" y1="222.6" x2="124.67" y2="225.2" stroke="#aaaaaa" stroke-width="1"/>
<text x="124.97" y="235.70" text-anchor="middle" fill="#111" font-size="8.4" style="font-family:'Liberation Serif','Times New Roman',serif">10.2</text>
<line x1="147.23" y1="222.6" x2="147.23" y2="224.2" stroke="#aaaaaa" stroke-width="1"/>
<line x1="169.80" y1="222.6" x2="169.80" y2="225.2" stroke="#aaaaaa" stroke-width="1"/>
<text x="170.10" y="235.70" text-anchor="middle" fill="#111" font-size="8.4" style="font-family:'Liberation Serif','Times New Roman',serif">10.4</text>
<line x1="192.37" y1="222.6" x2="192.37" y2="224.2" stroke="#aaaaaa" stroke-width="1"/>
<line x1="214.93" y1="222.6" x2="214.93" y2="225.2" stroke="#aaaaaa" stroke-width="1"/>
<text x="215.23" y="235.70" text-anchor="middle" fill="#111" font-size="8.4" style="font-family:'Liberation Serif','Times New Roman',serif">10.6</text>
<line x1="237.50" y1="222.6" x2="237.50" y2="224.2" stroke="#aaaaaa" stroke-width="1"/>
<line x1="260.07" y1="222.6" x2="260.07" y2="225.2" stroke="#aaaaaa" stroke-width="1"/>
<text x="260.37" y="235.70" text-anchor="middle" fill="#111" font-size="8.4" style="font-family:'Liberation Serif','Times New Roman',serif">10.8</text>
<line x1="282.63" y1="222.6" x2="282.63" y2="224.2" stroke="#aaaaaa" stroke-width="1"/>
<line x1="305.20" y1="222.6" x2="305.20" y2="225.2" stroke="#aaaaaa" stroke-width="1"/>
<text x="305.50" y="235.70" text-anchor="middle" fill="#111" font-size="8.4" style="font-family:'Liberation Serif','Times New Roman',serif">11.0</text>
<line x1="79.5" y1="140.5" x2="79.5" y2="222.6" stroke="#777" stroke-width="0.7" stroke-dasharray="1,1.9"/>
<line x1="106.7" y1="139.8" x2="106.7" y2="222.6" stroke="#777" stroke-width="0.7" stroke-dasharray="1,1.9"/>
<line x1="259.4" y1="137.8" x2="259.4" y2="222.6" stroke="#777" stroke-width="0.7" stroke-dasharray="1,1.9"/>
<line x1="282.4" y1="138.8" x2="282.4" y2="222.6" stroke="#777" stroke-width="0.7" stroke-dasharray="1,1.9"/>
<polyline points="34.70,210.41 36.70,210.24 38.70,210.29 40.70,210.13 42.70,210.41 44.70,210.06 46.70,210.28 48.70,210.43 50.70,210.39 52.70,210.10 54.70,210.17 56.70,210.47 58.70,210.37 60.70,210.49 62.70,210.49 64.70,210.27 66.70,210.50 68.70,210.42 70.70,210.22 72.70,210.24 74.70,210.09 76.70,210.25 78.70,210.53 79.80,210.30 80.30,209.50 81.60,145.00 82.10,143.50 83.50,143.16 85.70,143.44 87.90,143.17 90.10,143.15 92.30,143.49 94.50,143.24 96.70,143.13 98.90,143.19 101.10,143.49 103.30,143.45 105.50,143.11 107.70,143.24 109.90,143.68 112.10,143.23 114.30,143.44 116.50,143.35 118.70,143.57 120.90,143.46 123.10,143.57 125.30,143.42 127.50,143.21 129.70,143.21 131.90,143.15 134.10,143.60 136.30,143.17 138.50,143.11 140.70,143.68 142.90,143.22 145.10,143.64 147.30,143.15 149.50,143.38 151.70,143.23 153.90,143.60 156.10,143.47 158.30,143.49 160.50,143.56 162.70,143.62 164.90,143.31 167.10,143.46 169.30,143.37 171.50,143.17 173.70,143.60 175.90,143.46 178.10,143.59 180.30,143.22 182.50,143.42 184.70,143.38 186.90,143.54 189.10,143.15 191.30,143.31 193.50,143.39 195.70,143.14 197.90,143.43 200.10,143.54 202.30,143.35 204.50,143.49 206.70,143.46 208.90,143.23 211.10,143.31 213.30,143.70 215.50,143.30 217.70,143.36 219.90,143.15 222.10,143.23 224.30,143.20 226.50,143.66 228.70,143.54 230.90,143.62 233.10,143.69 235.30,143.47 237.50,143.66 239.70,143.42 241.90,143.35 244.10,143.67 246.30,143.64 248.50,143.67 250.70,143.39 252.90,143.56 255.10,143.34 257.30,143.70 259.50,143.65 260.10,143.40 260.40,150.00 261.70,208.00 262.20,210.00 264.00,210.00 266.20,210.32 268.40,209.94 270.60,209.90 272.80,210.21 275.00,210.00 277.20,210.11 279.40,210.17 281.60,209.87 283.80,210.22 286.00,209.99 288.20,210.07 290.40,210.02 292.60,210.22 294.80,210.22 297.00,209.99 299.20,209.90 301.40,210.00 303.60,210.06 304.70,210.10" fill="none" stroke="#5f71c4" stroke-width="1.1" stroke-linejoin="round"/>
<polyline points="34.90,213.60 35.80,212.90 40.00,212.70 50.00,212.60 60.00,212.70 70.00,212.60 78.50,212.60 79.40,213.60 80.40,213.00 82.40,212.10 84.80,213.50 86.50,212.70 91.20,212.20 95.00,212.50 100.00,212.40 106.60,212.30 107.40,200.00 108.20,175.00 109.00,153.80 110.60,154.00 111.20,154.40 113.40,173.50 115.80,154.30 117.40,154.60 120.30,159.60 124.50,155.30 129.60,155.30 131.00,170.00 131.90,180.00 133.90,189.80 136.00,196.50 137.80,201.70 140.50,206.50 143.20,209.60 144.00,190.00 144.60,170.00 145.30,153.50 147.90,156.80 151.40,155.20 156.20,161.00 159.70,155.80 165.30,154.30 166.60,155.20 169.60,183.00 172.00,154.80 174.50,155.10 180.50,154.30 187.40,155.90 195.00,155.30 200.00,155.30 207.00,155.60 214.00,154.30 220.00,155.40 230.00,155.60 240.00,155.30 250.00,155.50 260.80,155.20 262.50,152.60 263.90,155.20 265.90,155.50 266.90,155.80 267.70,167.00 269.00,178.00 270.30,186.00 271.30,190.00 273.20,198.20 274.80,202.00 276.50,206.20 278.50,208.30 281.40,209.90 284.50,211.00 288.00,211.80 292.00,212.60 296.30,213.10 300.00,213.00 304.60,212.40" fill="none" stroke="#f05c5c" stroke-width="1.05" stroke-linejoin="round"/>
<line x1="82.9" y1="182.4" x2="103.7" y2="182.4" stroke="#555" stroke-width="0.6"/>
<polygon points="79.9,182.4 85.1,180.9 85.1,183.9" fill="#111"/>
<polygon points="106.7,182.4 101.5,180.9 101.5,183.9" fill="#111"/>
<line x1="263.3" y1="180.1" x2="279.4" y2="180.1" stroke="#555" stroke-width="0.6"/>
<polygon points="260.3,180.1 265.5,178.6 265.5,181.6" fill="#111"/>
<polygon points="282.4,180.1 277.2,178.6 277.2,181.6" fill="#111"/>
<text x="96.7" y="179.2" text-anchor="middle" fill="#111" stroke="#111" stroke-width="0.25" font-size="6.9" font-weight="bold" style="font-family:'Liberation Serif','Times New Roman',serif">120μs</text>
<text x="247.7" y="181.3" text-anchor="middle" fill="#111" stroke="#111" stroke-width="0.25" font-size="6.9" font-weight="bold" style="font-family:'Liberation Serif','Times New Roman',serif">105μs</text>
<line x1="34.4" y1="127.3" x2="169.8" y2="98.3" stroke="#c4449f" stroke-width="1.05" stroke-dasharray="4.4,4.25" stroke-dashoffset="5.15"/>
<line x1="183.04" y1="98.5" x2="305.5" y2="127.0" stroke="#c4449f" stroke-width="1.05" stroke-dasharray="4.5,4.15" stroke-dashoffset="-0.7"/>
<text transform="translate(10.9,116.6) rotate(-90)" text-anchor="middle" fill="#2c40a4" font-size="10.3" font-weight="bold" style="font-family:'Liberation Serif','Times New Roman',serif">Voltage I (V)</text>
<text transform="translate(328.6,118.1) rotate(-90)" text-anchor="middle" fill="#ec2020" font-size="10.3" font-weight="bold" style="font-family:'Liberation Serif','Times New Roman',serif">Voltage II (V)</text>
<text x="169.7" y="248.3" text-anchor="middle" fill="#111" font-size="10.1" font-weight="bold" style="font-family:'Liberation Serif','Times New Roman',serif">Time (ms)</text>
</svg>
</body></html>
